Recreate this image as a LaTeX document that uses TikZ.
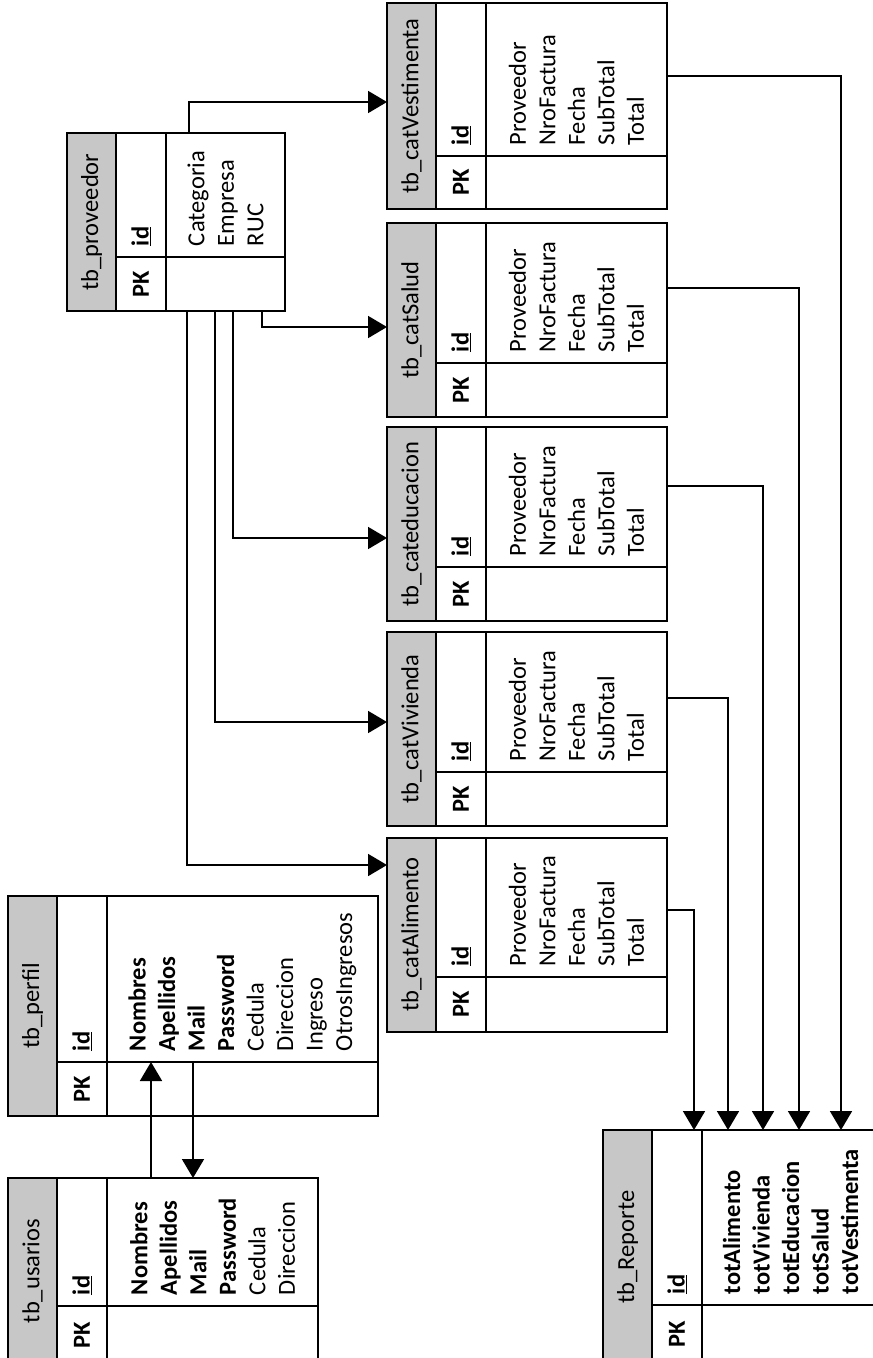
\documentclass[tikz,border=0pt]{standalone}
\usepackage{fontspec}
\setmainfont{Carlito}
\usepackage{graphicx}
\usetikzlibrary{arrows.meta,positioning}

\tikzset{
  cell/.style={draw, line width=1.4pt, rectangle, inner sep=0pt, outer sep=0pt, anchor=north west},
  hdrcell/.style={cell, fill=black!22},
  fk/.style={line width=1.8pt, -{Triangle[length=19pt,width=22pt]}},
}

% name, label, x, top, divider, bottom, field width, fields
\newcommand{\tabla}[8]{%
  \pgfmathsetmacro{\hall}{#6-#4}%
  \pgfmathsetmacro{\hup}{#5-#4}%
  \pgfmathsetmacro{\hlow}{#6-#5}%
  \pgfmathsetmacro{\htxt}{#5-#4-22}%
  \node[hdrcell, minimum width=49pt, minimum height=\hall pt] (#1Hdr) at (#3,#4) {\rotatebox{90}{#2}};
  \node[cell, minimum width=50pt, minimum height=\hup pt] (#1Id) at (#1Hdr.north east)
    {\rotatebox{90}{\parbox{\htxt pt}{\raggedright\underline{\textbf{id}}}}};
  \node[cell, minimum width=50pt, minimum height=\hlow pt] (#1Pk) at (#1Id.south west) {\rotatebox{90}{\textbf{PK}}};
  \node[cell, minimum width=#7pt, minimum height=\hup pt] (#1Fld) at (#1Id.north east)
    {\rotatebox{90}{\parbox{\htxt pt}{\raggedright #8}}};
  \node[cell, minimum width=#7pt, minimum height=\hlow pt] (#1Emp) at (#1Fld.south west) {};
}
\newcommand{\catcampos}{Proveedor\\NroFactura\\Fecha\\SubTotal\\Total}

\begin{document}
\begin{tikzpicture}[x=1pt, y=-1pt, font=\fontsize{24.5}{29.5}\selectfont]
  \useasboundingbox (0,0) rectangle (873,1358);

  % tablas de usuario
  \tabla{usr}{tb\_usarios}{8}{1178}{1306}{1364}{211}{\textbf{Nombres}\\\textbf{Apellidos}\\\textbf{Mail}\\\textbf{Password}\\Cedula\\Direccion}
  \tabla{per}{tb\_perfil}{8}{896}{1062}{1116}{271}{\textbf{Nombres}\\\textbf{Apellidos}\\\textbf{Mail}\\\textbf{Password}\\Cedula\\Direccion\\Ingreso\\OtrosIngresos}
  \tabla{prov}{tb\_proveedor}{67}{133}{257}{311}{119}{Categoria\\Empresa\\RUC}

  % categorias
  \foreach \n/\ya/\yd/\yb in {catVestimenta/3/156/209, catSalud/223/363/417, cateducacion/427/567/621,
                              catVivienda/632/772/826, catAlimento/838/977/1032}
    {\tabla{\n}{tb\_\n}{387}{\ya}{\yd}{\yb}{181}{\catcampos}}

  \tabla{rep}{tb\_Reporte}{603}{1130}{1305}{1364}{177}{\textbf{totAlimento}\\\textbf{totVivienda}\\\textbf{totEducacion}\\\textbf{totSalud}\\\textbf{totVestimenta}}

  % usuario <-> perfil
  \draw[fk] ([xshift=44pt]usrFld.north west) -- ([xshift=44pt]perEmp.north west);
  \draw[fk] ([xshift=86pt]perEmp.north west) -- ([xshift=86pt]usrFld.north west);

  % proveedor -> categorias
  \draw[fk] ([xshift=23pt]provFld.north west) |- ([yshift=-99pt]catVestimentaHdr.north west);
  \draw[fk] ([xshift=96pt]provEmp.south west) |- ([yshift=-104pt]catSaludHdr.north west);
  \draw[fk] ([xshift=67pt]provEmp.south west) |- ([yshift=-111pt]cateducacionHdr.north west);
  \draw[fk] ([xshift=49pt]provEmp.south west) |- ([yshift=-90pt]catViviendaHdr.north west);
  \draw[fk] ([xshift=21pt]provEmp.south west) |- ([yshift=-27pt]catAlimentoHdr.north west);

  % totales -> reporte
  \draw[fk] ([yshift=-73pt]catVestimentaFld.north east) -| ([xshift=139pt]repFld.north west);
  \draw[fk] ([yshift=-65pt]catSaludFld.north east) -| ([xshift=97pt]repFld.north west);
  \draw[fk] ([yshift=-59pt]cateducacionFld.north east) -| ([xshift=61pt]repFld.north west);
  \draw[fk] ([yshift=-66pt]catViviendaFld.north east) -| ([xshift=26pt]repFld.north west);
  \draw[fk] ([yshift=-72pt]catAlimentoFld.north east) -| ([xshift=-8pt]repFld.north west);
\end{tikzpicture}
\end{document}
